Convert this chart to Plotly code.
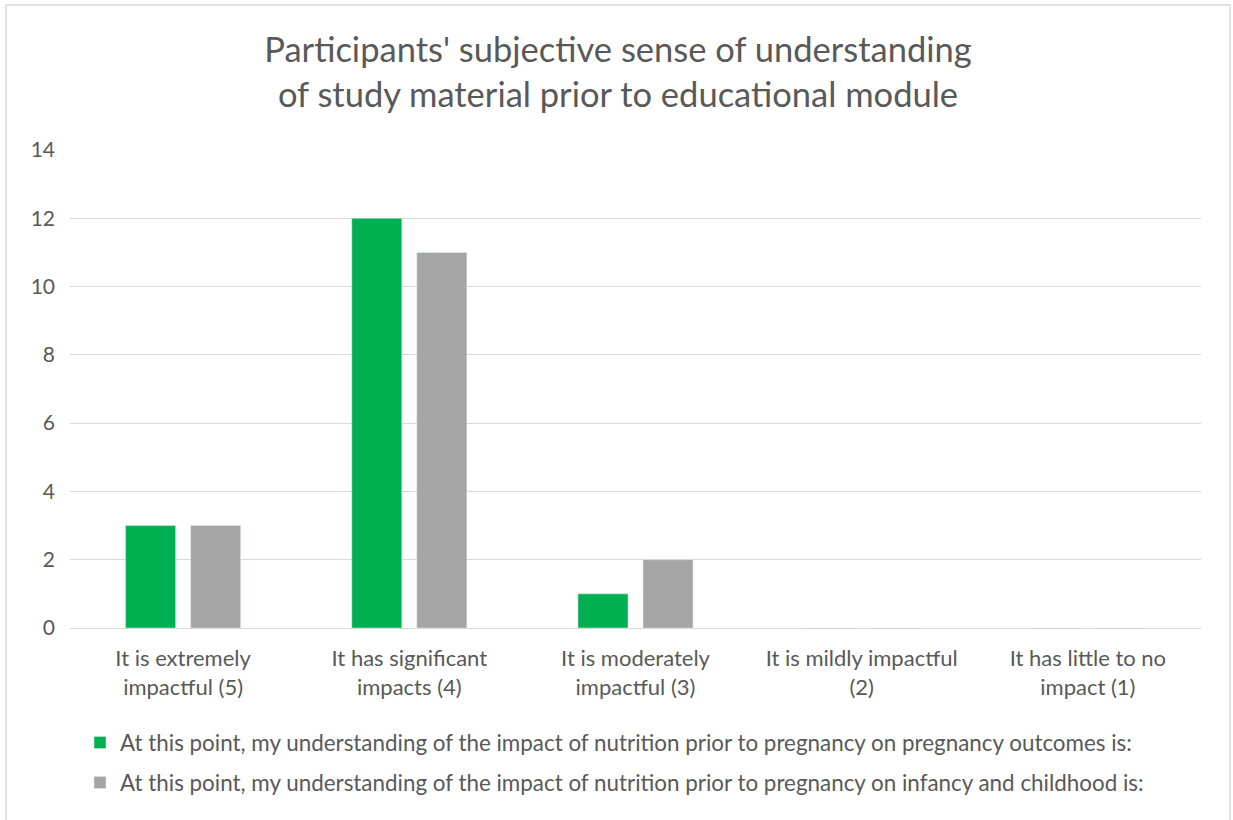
import plotly.graph_objects as go

categories = ["It is extremely<br>impactful (5)", "It has significant<br>impacts (4)",
              "It is moderately<br>impactful (3)", "It is mildly impactful<br>(2)",
              "It has little to no<br>impact (1)"]
outcomes = [3, 12, 1, 0, 0]
infancy = [3, 11, 2, 0, 0]
name_outcomes = "At this point, my understanding of the impact of nutrition prior to pregnancy on pregnancy outcomes is:"
name_infancy = "At this point, my understanding of the impact of nutrition prior to pregnancy on infancy and childhood is:"
y_ticks = [0, 2, 4, 6, 8, 10, 12, 14]

FONT = "Lato"
TXT = "#595959"

fig = go.Figure()
fig.add_trace(go.Bar(x=categories, y=outcomes, name=name_outcomes, showlegend=True,
                     marker=dict(color="#00b050"), legend="legend"))
fig.add_trace(go.Bar(x=categories, y=infancy, name=name_infancy, showlegend=True,
                     marker=dict(color="#a5a5a5"), legend="legend2"))

W, H = 1233, 820
L, R, T, B = 70, 32, 150, 192
pw, ph = W - L - R, H - T - B

def px(xp):
    return (xp - L) / pw

def py(yp):
    return (H - B - yp) / ph

fig.update_layout(
    width=W, height=H,
    margin=dict(l=L, r=R, t=T, b=B),
    showlegend=True,
    paper_bgcolor="white", plot_bgcolor="white",
    font=dict(family=FONT, color=TXT, size=21),
    title=dict(text="Participants' subjective sense of understanding<br>of study material prior to educational module",
               x=618 / W, xanchor="center", xref="container",
               y=1 - 62 / H, yanchor="middle", yref="container",
               font=dict(family=FONT, size=34.5, color=TXT)),
    barmode="group", bargap=0.425, bargroupgap=0.23,
    xaxis=dict(showgrid=False, showline=False, ticks="",
               tickfont=dict(size=22, color=TXT), ticklabelstandoff=15),
    yaxis=dict(range=[0, 14], tickvals=y_ticks, showgrid=True, gridcolor="#d9d9d9",
               gridwidth=1, zeroline=True, zerolinecolor="#d9d9d9", zerolinewidth=1,
               showline=False, ticks="", tickfont=dict(size=21, color=TXT),
               ticklabelstandoff=14),
    legend=dict(x=px(80), xanchor="left", y=py(743), yanchor="middle",
                font=dict(size=22.4, color=TXT), bgcolor="rgba(0,0,0,0)"),
    legend2=dict(x=px(80), xanchor="left", y=py(783), yanchor="middle",
                 font=dict(size=22.4, color=TXT), bgcolor="rgba(0,0,0,0)"),
    shapes=[dict(type="rect", xref="paper", yref="paper",
                 x0=px(6), x1=px(1230), y0=py(830), y1=py(5),
                 line=dict(color="#d9d9d9", width=1.5), fillcolor="rgba(0,0,0,0)", layer="below")],
)

fig.write_html("out.html")
